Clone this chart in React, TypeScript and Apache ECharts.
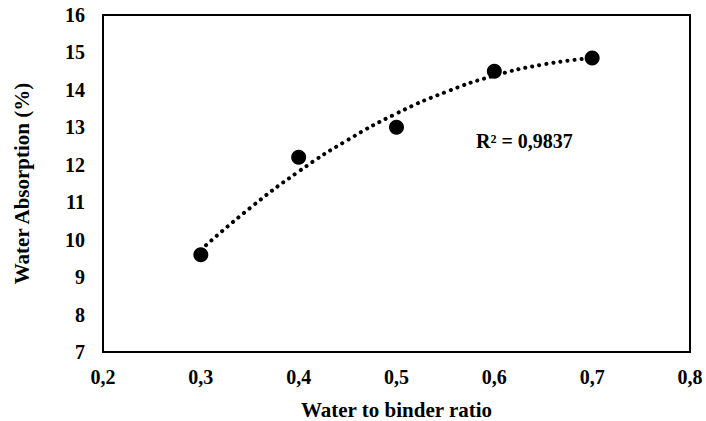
import React, { useEffect, useRef } from "react";
import * as echarts from "echarts";

const ratios = [0.3, 0.4, 0.5, 0.6, 0.7];
const absorption = [9.6, 12.2, 13.0, 14.5, 14.85];
const trendX = [0.3, 0.35, 0.4, 0.45, 0.5, 0.55, 0.6, 0.65, 0.7];
const trendY = [9.73, 10.84, 11.82, 12.66, 13.37, 13.94, 14.38, 14.68, 14.85];
const r2Label = "R² = 0,9837";

const FONT = "'Liberation Serif', 'Times New Roman', serif";

export default function App() {
  const ref = useRef<HTMLDivElement>(null);
  useEffect(() => {
    document.body.style.margin = "0";
    const chart = echarts.init(ref.current!, null, { renderer: "svg" });
    const fmt = (v: number) => String(Math.round(v * 10) / 10).replace(".", ",");
    chart.setOption({
      animation: false,
      backgroundColor: "#fff",
      textStyle: { fontFamily: FONT },
      grid: {
        left: 103,
        right: 16,
        top: 15,
        bottom: 69,
        outerBoundsMode: "none",
        containLabel: false,
        show: true,
        borderColor: "#000",
        borderWidth: 2,
      },
      xAxis: {
        type: "value",
        min: 0.2,
        max: 0.8,
        interval: 0.1,
        name: "Water to binder ratio",
        nameLocation: "middle",
        nameGap: 47,
        nameTextStyle: { fontFamily: FONT, fontWeight: "bold", fontSize: 21, color: "#000" },
        axisLine: { show: true, lineStyle: { color: "#000", width: 2 } },
        axisTick: { show: false },
        splitLine: { show: false },
        axisLabel: {
          formatter: fmt,
          fontFamily: FONT,
          fontWeight: "bold",
          fontSize: 20,
          color: "#000",
          margin: 15,
        },
      },
      yAxis: {
        type: "value",
        min: 7,
        max: 16,
        interval: 1,
        name: "Water Absorption (%)",
        nameLocation: "middle",
        nameGap: 71,
        nameTextStyle: { fontFamily: FONT, fontWeight: "bold", fontSize: 21, color: "#000" },
        axisLine: { show: true, lineStyle: { color: "#000", width: 2 } },
        axisTick: { show: false },
        splitLine: { show: false },
        axisLabel: {
          fontFamily: FONT,
          fontWeight: "bold",
          fontSize: 20,
          color: "#000",
          margin: 18,
        },
      },
      series: [
        {
          type: "line",
          data: trendX.map((x, i) => [x, trendY[i]]),
          smooth: true,
          showSymbol: false,
          symbol: "none",
          lineStyle: { color: "#000", width: 4, type: [0.1, 7], cap: "round" },
          z: 2,
        },
        {
          type: "scatter",
          data: ratios.map((x, i) => [x, absorption[i]]),
          symbol: "circle",
          symbolSize: 15,
          itemStyle: { color: "#000", opacity: 1 },
          z: 3,
        },
      ],
      graphic: [
        {
          type: "text",
          left: 476,
          top: 131,
          style: {
            text: r2Label,
            font: `bold 20px ${FONT}`,
            fill: "#000",
          },
        },
      ],
    });
    return () => chart.dispose();
  }, []);
  return <div ref={ref} style={{ width: 706, height: 421 }} />;
}
